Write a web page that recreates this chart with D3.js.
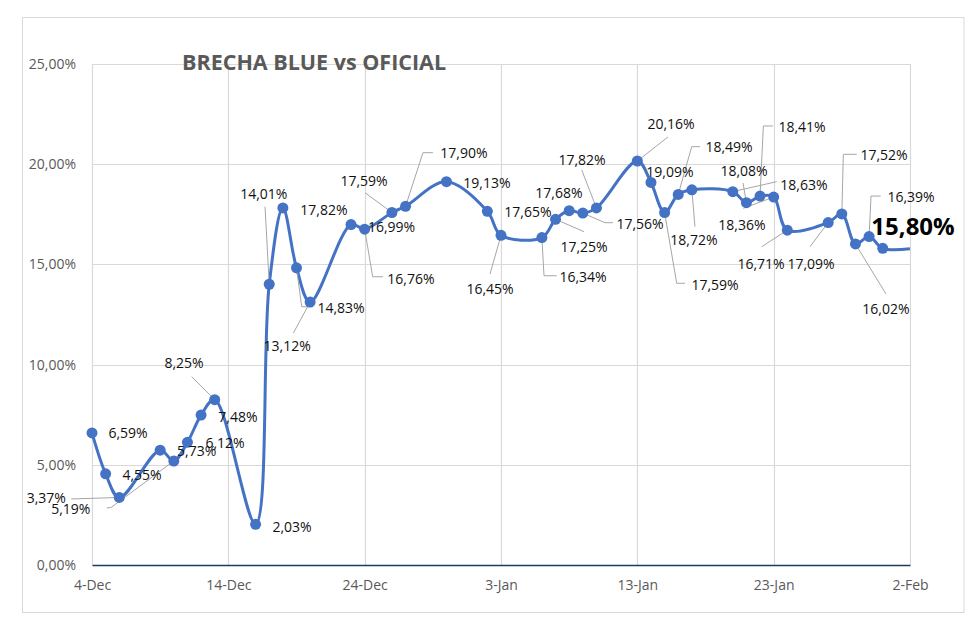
<!DOCTYPE html>
<html><head><meta charset="utf-8">
<script src="https://cdn.jsdelivr.net/npm/d3@7"></script>
<style>body{margin:0;background:#fff} svg{display:block}</style>
</head><body>
<svg id="c" width="980" height="627"></svg>
<script>
// ---------- DATA ----------
const dates = ["2024-12-04","2024-12-05","2024-12-06","2024-12-09","2024-12-10","2024-12-11","2024-12-12","2024-12-13",
  "2024-12-16","2024-12-17","2024-12-18","2024-12-19","2024-12-20","2024-12-23","2024-12-24","2024-12-26","2024-12-27",
  "2024-12-30","2025-01-02","2025-01-03","2025-01-06","2025-01-07","2025-01-08","2025-01-09","2025-01-10","2025-01-13",
  "2025-01-14","2025-01-15","2025-01-16","2025-01-17","2025-01-20","2025-01-21","2025-01-22","2025-01-23","2025-01-24",
  "2025-01-27","2025-01-28","2025-01-29","2025-01-30","2025-01-31","2025-02-02"];
const values = [6.59,4.55,3.37,5.73,5.19,6.12,7.48,8.25,
  2.03,14.01,17.82,14.83,13.12,16.99,16.76,17.59,17.90,
  19.13,17.65,16.45,16.34,17.25,17.68,17.56,17.82,20.16,
  19.09,17.59,18.49,18.72,18.63,18.08,18.41,18.36,16.71,
  17.09,17.52,16.02,16.39,15.80,15.78];
const showMarker = values.map((v,i)=> i < values.length-1);
const yTicks = [0,5,10,15,20,25];
const xTickDates = ["2024-12-04","2024-12-14","2024-12-24","2025-01-03","2025-01-13","2025-01-23","2025-02-02"];
const title = "BRECHA BLUE vs OFICIAL";
const highlightIndex = 39;

// ---------- LABEL LAYOUT (pixel offsets from each point) ----------
const labelOffsets = [[36,0],[36.4,1],[-73,0.5],[36.5,0.8],[-103,47.5],[37.6,0.6],[36.9,0.9],[-30.7,-36.7],
  [36.4,1.7],[-5.4,-90.9],[41.1,1.4],[44.5,39.2],[-23,43],[40.5,1.5],[46.3,49.2],[-27.9,-31.8],[58.4,-53.3],
  [40.5,1.1],[40.6,0.4],[-11,52.7],[41.1,39.2],[28.5,26.7],[-10.2,-18],[57.2,10.2],[-14.4,-48.6],[33.7,-37.7],
  [19,-10.7],[50.4,72.5],[50.8,-47.8],[2.1,49.4],[71.2,-6.7],[-2.4,-31.7],[42,-69.4],[-31.7,27.9],[-26.3,33.2],
  [-17.2,40.8],[42.2,-58.9],[30.5,64.3],[41.9,-39.8],[30.3,-22.4],null];
const leaders = [null,null,[[-48,1.5]],null,[[-63,46.7],[-67,46.7]],null,null,[[-23,-23]],
  null,[[-4.2,-77.5]],null,[[5.2,38.9],[13.5,38.9]],[[-16.8,31]],null,[[8,47.6],[18.3,47.6]],[[-26.9,-19.8]],[[17.4,-53.6],[27.4,-53.6]],
  null,null,[[-11,38.7]],[[2.1,38.2],[14.8,38.2]],[[28.5,12.4]],null,[[22.2,9.6],[30.2,9.6]],[[-14.7,-37.9]],[[30.7,-24]],
  null,[[12.1,70.8],[20.4,70.8]],[[13.5,-47.8],[21.8,-47.8]],[[3.1,36.8]],[[43.9,-10]],[[-3.4,-19.7]],[[3.3,-70.1],[13,-70.1]],[[-30.4,11.2]],[[-25.6,16.6]],
  [[-18.2,24.2]],[[1.5,-59.6],[14.9,-59.6]],[[30.5,50]],[[1.9,-40.5],[11.6,-40.5]],null,null];

// ---------- CHART ----------
const FONT = "'Open Sans', Lato, sans-serif";
const svg = d3.select("#c");
const parse = d3.timeParse("%Y-%m-%d");
const loc = d3.formatLocale({decimal:",", thousands:".", grouping:[3], currency:["$",""]});
const fmt = loc.format(".2f");
const data = dates.map((d,i)=>({date:parse(d), v:values[i], i}));

const x = d3.scaleTime().domain([parse("2024-12-04"), parse("2025-02-02")]).range([92, 910]);
const y = d3.scaleLinear().domain([0,25]).range([565, 64]);

// outer border
svg.append("rect").attr("x",22.5).attr("y",17.5).attr("width",941.5).attr("height",595)
  .attr("fill","#fff").attr("stroke","#d9d9d9").attr("stroke-width",1);

// grid
const gGrid = svg.append("g");
gGrid.selectAll("line.h").data(yTicks.filter(t=>t>0)).join("line")
  .attr("x1",x.range()[0]).attr("x2",x.range()[1])
  .attr("y1",d=>Math.round(y(d))+0.5).attr("y2",d=>Math.round(y(d))+0.5)
  .attr("stroke","#d9d9d9").attr("stroke-width",1.2);
gGrid.selectAll("line.v").data(xTickDates.map(parse)).join("line")
  .attr("x1",d=>Math.round(x(d))+0.5).attr("x2",d=>Math.round(x(d))+0.5)
  .attr("y1",y(25)).attr("y2",y(0))
  .attr("stroke","#d9d9d9").attr("stroke-width",1.2);

// axes
const yAxis = d3.axisLeft(y).tickValues(yTicks).tickSize(0).tickPadding(16)
  .tickFormat(d=>fmt(d)+"%");
const gy = svg.append("g").attr("transform",`translate(${x.range()[0]},0)`).call(yAxis);
gy.select(".domain").remove();
gy.selectAll("text").attr("font-family",FONT).attr("font-size","14px").attr("fill","#595959");

const xAxis = d3.axisBottom(x).tickValues(xTickDates.map(parse)).tickSize(0).tickPadding(15)
  .tickFormat(d3.timeFormat("%-d-%b"));
const gx = svg.append("g").attr("transform",`translate(0,${y(0)})`).call(xAxis);
gx.select(".domain").attr("stroke","#1f3864").attr("stroke-width",1.5);
gx.selectAll("text").attr("font-family",FONT).attr("font-size","14px").attr("fill","#595959");

// title
svg.append("text").attr("x",182).attr("y",61).attr("dominant-baseline","central")
  .attr("font-family",FONT).attr("font-weight",700).attr("font-size","21.5px").attr("fill","#595959")
  .text(title);

// line
const line = d3.line().x(d=>x(d.date)).y(d=>y(d.v)).curve(d3.curveCatmullRom.alpha(0.5));
svg.append("path").datum(data).attr("d",line).attr("fill","none")
  .attr("stroke","#4472c4").attr("stroke-width",3).attr("stroke-linejoin","round");

// leader lines
const gL = svg.append("g");
data.forEach(d=>{
  const L = leaders[d.i];
  if(!L) return;
  const px = x(d.date), py = y(d.v);
  const pts = [[px,py]].concat(L.map(o=>[px+o[0], py+o[1]]));
  gL.append("path").attr("d", d3.line()(pts)).attr("fill","none")
    .attr("stroke","#a6a6a6").attr("stroke-width",1);
});

// markers
svg.append("g").selectAll("circle").data(data.filter(d=>showMarker[d.i])).join("circle")
  .attr("cx",d=>x(d.date)).attr("cy",d=>y(d.v)).attr("r",5.5).attr("fill","#4472c4");

// data labels
svg.append("g").selectAll("text").data(data.filter(d=>labelOffsets[d.i])).join("text")
  .attr("x",d=>x(d.date)+labelOffsets[d.i][0])
  .attr("y",d=>y(d.v)+labelOffsets[d.i][1])
  .attr("text-anchor","middle").attr("dominant-baseline","central")
  .attr("font-family",FONT)
  .attr("font-size",d=>d.i===highlightIndex?"24px":"14px")
  .attr("font-weight",d=>d.i===highlightIndex?700:400)
  .attr("fill",d=>d.i===highlightIndex?"#000":"#111")
  .text(d=>fmt(d.v)+"%");
</script>
</body></html>
